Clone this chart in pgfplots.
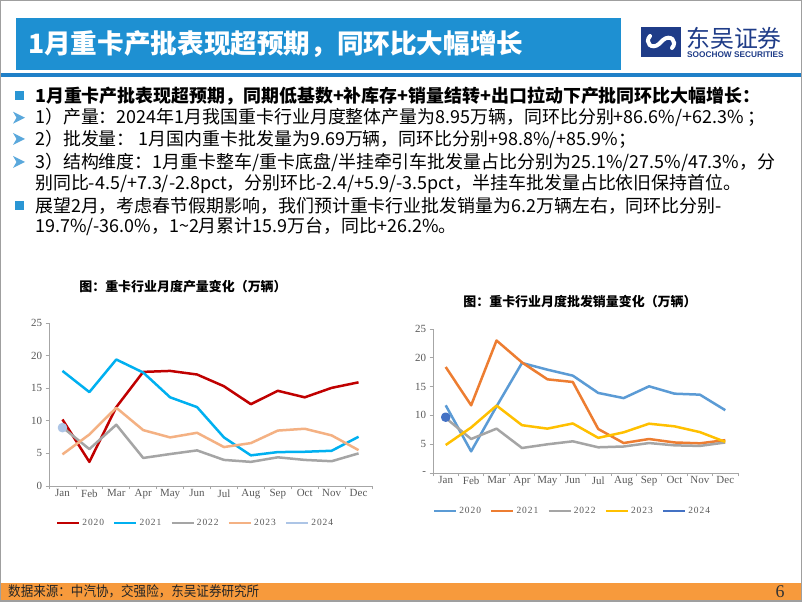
\documentclass[border=0pt]{standalone}
\usepackage{pgfplots}
\pgfplotsset{compat=1.18}
\usepackage{fontspec}
\setmainfont{Noto Sans CJK SC}
\newfontfamily\cjk{Noto Sans CJK SC}
\newfontfamily\cjknarrow[FakeStretch=0.9]{Noto Sans CJK SC}
\newfontfamily\tnr{Liberation Serif}
\newfontfamily\tnrsp[LetterSpace=10]{Liberation Serif}
\newfontfamily\lsans{Liberation Sans}
\definecolor{titleblue}{HTML}{1E90D2}
\definecolor{lineblue}{HTML}{2080C8}
\definecolor{navy}{HTML}{1F3C88}
\definecolor{bulletblue}{HTML}{2A96D4}
\definecolor{arrowblue}{HTML}{5AA8DC}
\definecolor{footorange}{HTML}{F79A3C}
\definecolor{axisgray}{HTML}{A6A6A6}
\definecolor{labelgray}{HTML}{595959}
\definecolor{Lc20}{HTML}{C00000}
\definecolor{Lc21}{HTML}{00B0F0}
\definecolor{Lc22}{HTML}{A5A5A5}
\definecolor{Lc23}{HTML}{F4B183}
\definecolor{Lc24}{HTML}{ADC5E6}
\definecolor{Rc20}{HTML}{5B9BD5}
\definecolor{Rc21}{HTML}{ED7D31}
\definecolor{Rc22}{HTML}{A5A5A5}
\definecolor{Rc23}{HTML}{FFC000}
\definecolor{Rc24}{HTML}{4472C4}
\pgfplotsset{
  mychart/.style={
    scale only axis,
    anchor=south west,
    xmin=-0.5, xmax=11.5, ymin=0, ymax=25,
    axis lines=left,
    axis line style={-, draw=axisgray, line width=0.8bp},
    xtick={-0.5,0.5,...,11.5},
    xticklabels={},
    extra x ticks={0,1,...,11},
    extra x tick labels={Jan,Feb,Mar,Apr,May,Jun,Jul,Aug,Sep,Oct,Nov,Dec},
    extra x tick style={major tick length=0pt},
    ytick={0,5,10,15,20,25},
    tick align=outside,
    major tick length=3.5bp,
    tick style={draw=axisgray, line width=0.8bp},
    ticklabel style={font=\tnr\fontsize{11}{11}\selectfont, text=labelgray},
    clip=false,
    legend columns=5,
    legend image code/.code={\draw[##1,mark repeat=2,mark phase=2] (0bp,0bp) -- (11bp,0bp) -- (22bp,0bp);},
    legend style={draw=none, fill=none, anchor=center,
      font=\tnrsp\fontsize{9.5}{10}\selectfont, text=labelgray,
      /tikz/every even column/.append style={column sep=7bp}},
  },
  ser/.style={line width=2.5bp, line join=round, mark=none},
}
\begin{document}
\begin{tikzpicture}[x=1bp,y=1bp]
\path[use as bounding box] (0,0) rectangle (802,602);
\fill[white] (0,0) rectangle (802,602);
% title bar
\fill[titleblue] (16,532) rectangle (621,584);
\node[anchor=west, text=white, inner sep=0pt, font=\cjk\fontsize{26.7}{26.7}\selectfont\bfseries] at (28,558) {1月重卡产批表现超预期，同环比大幅增长};
\fill[lineblue] (1,525) rectangle (801,528.5);
% logo
\fill[navy] (641,545) rectangle (681,575);
\draw[white, line width=4bp, line cap=round] (650,566) .. controls (644,559) and (652,552) .. (659,558) -- (663,562) .. controls (670,568) and (678,561) .. (672,554);
\node[anchor=west, text=navy, inner sep=0pt, font=\cjk\fontsize{24}{24}\selectfont] at (686,564) {东吴证券};
\node[anchor=west, text=navy, inner sep=0pt, font=\lsans\fontsize{8.3}{8.3}\selectfont\bfseries] at (687,547) {SOOCHOW SECURITIES};
% bullets
\fill[bulletblue] (15,502) rectangle (24,511);
\foreach \yy in {484.3,463,440} {
  \fill[arrowblue] (13,\yy+6) -- (25,\yy) -- (13,\yy-6) -- (16.5,\yy) -- cycle;
}
\fill[bulletblue] (15,392) rectangle (24,401);
% body text
\begin{scope}[every node/.style={anchor=west, inner sep=0pt, font=\cjk\fontsize{18}{18}\selectfont}]
\node at (35,506.3) {\bfseries 1月重卡产批表现超预期，同期低基数+补库存+销量结转+出口拉动下产批同环比大幅增长：};
\node at (35,484.3) {1）产量：2024年1月我国重卡行业月度整体产量为8.95万辆，同环比分别+86.6\%/+62.3\% ；};
\node at (35,463) {2）批发量： 1月国内重卡批发量为9.69万辆，同环比分别+98.8\%/+85.9\%；};
\node at (35,440) {3）结构维度：1月重卡整车/重卡底盘/半挂牵引车批发量占比分别为25.1\%/27.5\%/47.3\%，分};
\node at (35,418) {别同比-4.5/+7.3/-2.8pct，分别环比-2.4/+5.9/-3.5pct，半挂车批发量占比依旧保持首位。};
\node at (35,396.3) {展望2月，考虑春节假期影响，我们预计重卡行业批发销量为6.2万辆左右，同环比分别-};
\node at (35,375) {19.7\%/-36.0\%，1{\textasciitilde}2月累计15.9万台，同比+26.2\%。};
\end{scope}
% chart titles
\node[font=\cjk\fontsize{13}{13}\selectfont\bfseries] at (183,315) {图：重卡行业月度产量变化（万辆）};
\node[font=\cjk\fontsize{13}{13}\selectfont\bfseries] at (580,300) {图：重卡行业月度批发销量变化（万辆）};
% left chart
\begin{axis}[mychart, at={(49bp,116bp)}, width=323bp, height=163bp,
  yticklabels={0,5,10,15,20,25},
  legend style={at={(rel axis cs:0.4536,-0.227)}}]
\addplot[ser, color=Lc20] coordinates {(0,10.2)(1,3.7)(2,12.1)(3,17.5)(4,17.65)(5,17.1)(6,15.3)(7,12.55)(8,14.6)(9,13.6)(10,15.05)(11,15.9)};
\addlegendentry{2020}
\addplot[ser, color=Lc21] coordinates {(0,17.65)(1,14.4)(2,19.4)(3,17.4)(4,13.6)(5,12.1)(6,7.45)(7,4.7)(8,5.2)(9,5.25)(10,5.4)(11,7.55)};
\addlegendentry{2021}
\addplot[ser, color=Lc22] coordinates {(0,9.0)(1,5.66)(2,9.4)(3,4.3)(4,4.9)(5,5.46)(6,4.0)(7,3.7)(8,4.4)(9,4.0)(10,3.8)(11,5.0)};
\addlegendentry{2022}
\addplot[ser, color=Lc23] coordinates {(0,4.85)(1,7.9)(2,12.0)(3,8.57)(4,7.45)(5,8.16)(6,5.97)(7,6.58)(8,8.5)(9,8.78)(10,7.76)(11,5.5)};
\addlegendentry{2023}
\addplot[ser, color=Lc24, mark=*, mark size=3.5bp, mark options={solid}] coordinates {(0,8.95)};
\addlegendentry{2024}
\end{axis}
% right chart
\begin{axis}[mychart, at={(433bp,129bp)}, width=305bp, height=144bp,
  yticklabels={-,5,10,15,20,25},
  legend style={at={(rel axis cs:0.457,-0.264)}}]
\addplot[ser, color=Rc20] coordinates {(0,11.75)(1,3.76)(2,11.57)(3,19.1)(4,17.94)(5,16.9)(6,13.9)(7,13.0)(8,15.05)(9,13.77)(10,13.6)(11,10.9)};
\addlegendentry{2020}
\addplot[ser, color=Rc21] coordinates {(0,18.4)(1,11.75)(2,23.0)(3,19.2)(4,16.26)(5,15.8)(6,7.64)(7,5.2)(8,5.9)(9,5.3)(10,5.15)(11,5.7)};
\addlegendentry{2021}
\addplot[ser, color=Rc22] coordinates {(0,9.55)(1,5.9)(2,7.7)(3,4.34)(4,4.98)(5,5.5)(6,4.46)(7,4.6)(8,5.2)(9,4.8)(10,4.7)(11,5.3)};
\addlegendentry{2022}
\addplot[ser, color=Rc23] coordinates {(0,4.86)(1,7.9)(2,11.7)(3,8.3)(4,7.7)(5,8.6)(6,6.1)(7,7.06)(8,8.56)(9,8.1)(10,7.1)(11,5.4)};
\addlegendentry{2023}
\addplot[ser, color=Rc24, mark=*, mark size=3.5bp, mark options={solid}] coordinates {(0,9.69)};
\addlegendentry{2024}
\end{axis}
% footer
\fill[footorange] (1,2) rectangle (801,19);
\node[anchor=west, inner sep=0pt, text=black!85, font=\cjknarrow\fontsize{14}{14}\selectfont] at (8,10.5) {数据来源：中汽协，交强险，东吴证券研究所};
\node[inner sep=0pt, text=black!80, font=\tnr\fontsize{18}{18}\selectfont] at (780,10.5) {6};
% frame
\draw[gray!75, line width=1.5bp] (0.75,0.75) rectangle (801.25,601.25);
\end{tikzpicture}
\end{document}
